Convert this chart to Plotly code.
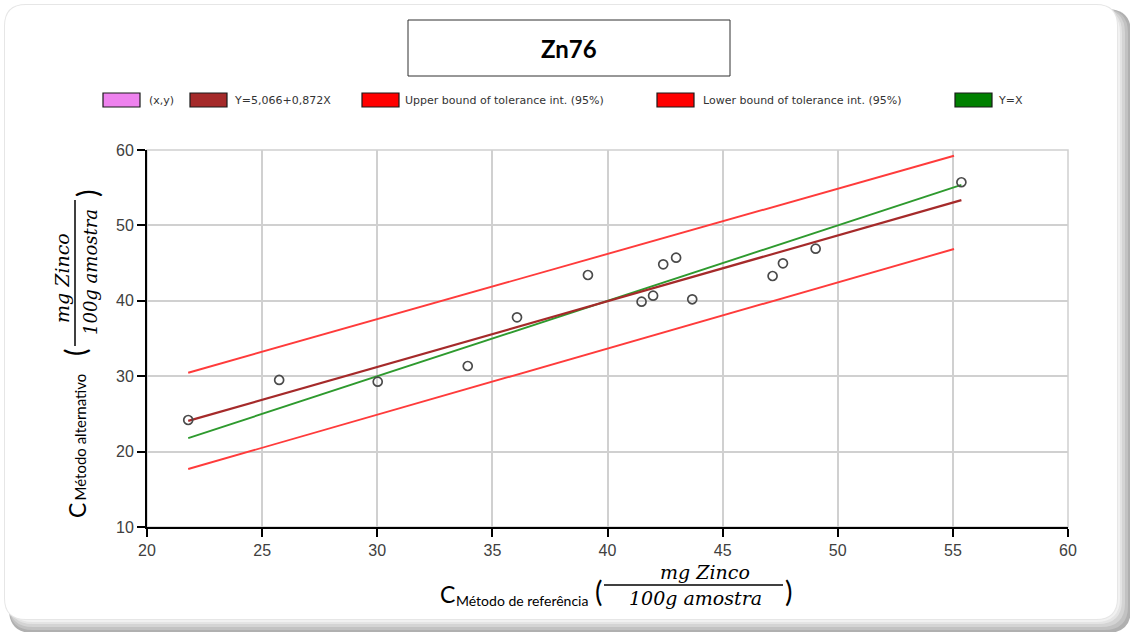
import plotly.graph_objects as go

# ---------------- data ----------------
x_ref = [21.79, 25.74, 30.02, 33.93, 36.07, 39.15, 41.48, 41.98, 42.42, 42.98, 43.68, 47.17, 47.62, 49.04, 55.37]
y_alt = [24.19, 29.50, 29.27, 31.35, 37.81, 43.42, 39.88, 40.68, 44.84, 45.72, 40.20, 43.29, 44.97, 46.91, 55.72]

fit_x = [21.79, 55.37]
fit_y = [24.07, 53.35]
upper_x = [21.79, 55.05]
upper_y = [30.46, 59.24]
lower_x = [21.79, 55.05]
lower_y = [17.69, 46.87]
ident_x = [21.79, 55.37]
ident_y = [21.79, 55.37]

legend_labels = ["(x,y)", "Y=5,066+0,872X", "Upper bound of tolerance int. (95%)",
                 "Lower bound of tolerance int. (95%)", "Y=X"]
legend_colors = ["#EE82EE", "#A52A2A", "#FF0000", "#FF0000", "#008000"]
x_ticks = [20, 25, 30, 35, 40, 45, 50, 55, 60]
y_ticks = [10, 20, 30, 40, 50, 60]
title_text = "Zn76"

# ---------------- layout geometry ----------------
W, H = 1130, 632
L, R, T, B = 147, 1068, 150, 527
PW, PH = R - L, B - T


def X(p):
    return (p - L) / PW


def Y(p):
    return (B - p) / PH


def rrect(x0, y0, x1, y1, r):
    pts = (f"M {X(x0+r)},{Y(y0)} L {X(x1-r)},{Y(y0)} Q {X(x1)},{Y(y0)} {X(x1)},{Y(y0+r)} "
           f"L {X(x1)},{Y(y1-r)} Q {X(x1)},{Y(y1)} {X(x1-r)},{Y(y1)} "
           f"L {X(x0+r)},{Y(y1)} Q {X(x0)},{Y(y1)} {X(x0)},{Y(y1-r)} "
           f"L {X(x0)},{Y(y0+r)} Q {X(x0)},{Y(y0)} {X(x0+r)},{Y(y0)} Z")
    return pts


fig = go.Figure()

fig.add_trace(go.Scatter(x=upper_x, y=upper_y, mode="lines",
                         line=dict(color="#FF3B3B", width=1.9), name=legend_labels[2]))
fig.add_trace(go.Scatter(x=lower_x, y=lower_y, mode="lines",
                         line=dict(color="#FF3B3B", width=1.9), name=legend_labels[3]))
fig.add_trace(go.Scatter(x=ident_x, y=ident_y, mode="lines",
                         line=dict(color="#2E9A2E", width=1.9), name=legend_labels[4]))
fig.add_trace(go.Scatter(x=fit_x, y=fit_y, mode="lines",
                         line=dict(color="#A52A2A", width=2.2), name=legend_labels[1]))
fig.add_trace(go.Scatter(x=x_ref, y=y_alt, mode="markers", name=legend_labels[0],
                         marker=dict(symbol="circle-open", size=9, color="#4a4a4a",
                                     line=dict(width=1.7))))

shapes = []
# card shadow / bevel
shadow = [("#b0b0b0", 1131, 633), ("#c2c2c2", 1128, 630), ("#d4d4d4", 1125, 627),
          ("#e4e4e4", 1122, 624), ("#f1f1f1", 1120, 622)]
for col, x1, y1 in shadow:
    shapes.append(dict(type="path", xref="paper", yref="paper", path=rrect(9, 9, x1, y1, 24),
                       fillcolor=col, line=dict(width=0), layer="below"))
shapes.append(dict(type="path", xref="paper", yref="paper", path=rrect(4, 4, 1118, 620, 22),
                   fillcolor="#e6e6e6", line=dict(width=0), layer="below"))
shapes.append(dict(type="path", xref="paper", yref="paper", path=rrect(5, 5, 1117, 619, 21),
                   fillcolor="#ffffff", line=dict(width=0), layer="below"))

# title box
shapes.append(dict(type="rect", xref="paper", yref="paper", x0=X(408), x1=X(730), y0=Y(20), y1=Y(76),
                   line=dict(color="#303030", width=1), fillcolor="white"))

# legend swatches
sw_x = [103, 190, 362, 657, 955]
tx_x = [147, 232, 403, 701, 996]
annotations = []
for sx, tx, lab, col in zip(sw_x, tx_x, legend_labels, legend_colors):
    shapes.append(dict(type="rect", xref="paper", yref="paper", x0=X(sx), x1=X(sx + 37),
                       y0=Y(93), y1=Y(107), fillcolor=col, line=dict(color="#1a1a1a", width=1.2)))
    annotations.append(dict(x=X(tx), y=Y(100), xref="paper", yref="paper", text=lab,
                            showarrow=False, xanchor="left", yanchor="middle",
                            font=dict(family="DejaVu Sans", size=11, color="#333333")))

# title
annotations.append(dict(x=X(569), y=Y(49), xref="paper", yref="paper", text="<b>" + title_text + "</b>",
                        showarrow=False, xanchor="center", yanchor="middle",
                        font=dict(family="Lato", size=24, color="black")))

serif = "DejaVu Serif"
# x axis title
annotations += [
    dict(x=X(447), y=Y(594), text="C", font=dict(family="Lato", size=23, color="black")),
    dict(x=X(454), y=Y(600), text="Método de referência", xanchor="left",
         font=dict(family="Lato", size=14, color="black")),
    dict(x=X(598), y=Y(591), text="(", font=dict(family="Lato", size=28, color="black")),
    dict(x=X(705), y=Y(572), text="<i>mg Zinco</i>", font=dict(family=serif, size=19, color="black")),
    dict(x=X(695), y=Y(598), text="<i>100g amostra</i>", font=dict(family=serif, size=19, color="black")),
    dict(x=X(788), y=Y(591), text=")", font=dict(family="Lato", size=28, color="black")),
]
shapes.append(dict(type="line", xref="paper", yref="paper", x0=X(604), x1=X(783), y0=Y(585), y1=Y(585),
                   line=dict(color="black", width=1.5)))

# y axis title (rotated)
annotations += [
    dict(x=X(77), y=Y(511), text="C", textangle=-90, font=dict(family="Lato", size=23, color="black")),
    dict(x=X(79), y=Y(503), text="Método alternativo", textangle=-90, yanchor="bottom",
         font=dict(family="Lato", size=15, color="black")),
    dict(x=X(75), y=Y(353), text="(", textangle=-90, font=dict(family="Lato", size=28, color="black")),
    dict(x=X(62), y=Y(278), text="<i>mg Zinco</i>", textangle=-90, font=dict(family=serif, size=19, color="black")),
    dict(x=X(90), y=Y(272), text="<i>100g amostra</i>", textangle=-90, font=dict(family=serif, size=18, color="black")),
    dict(x=X(87), y=Y(194), text=")", textangle=-90, font=dict(family="Lato", size=28, color="black")),
]
shapes.append(dict(type="line", xref="paper", yref="paper", x0=X(75), x1=X(75), y0=Y(200), y1=Y(346),
                   line=dict(color="black", width=1.5)))

for a in annotations:
    a.setdefault("xref", "paper")
    a.setdefault("yref", "paper")
    a.setdefault("showarrow", False)
    a.setdefault("xanchor", "center")
    a.setdefault("yanchor", "middle")

# plot frame (top/right in grid colour)
shapes.append(dict(type="rect", xref="paper", yref="paper", x0=0, x1=1, y0=0, y1=1,
                   line=dict(color="#d0d0d0", width=1.5), layer="below"))

axis_common = dict(showline=True, linecolor="black", linewidth=2, ticks="outside", ticklen=8,
                   tickwidth=1.5, tickcolor="black", showgrid=True, gridcolor="#d0d0d0", gridwidth=1.5,
                   zeroline=False, tickfont=dict(family="Liberation Sans", size=16, color="#404040"),
                   automargin=False, fixedrange=True)

fig.update_layout(
    width=W, height=H, autosize=False,
    margin=dict(l=L, r=W - R, t=T, b=H - B, pad=0),
    paper_bgcolor="white", plot_bgcolor="rgba(0,0,0,0)",
    showlegend=False,
    xaxis=dict(range=[20, 60], tickvals=x_ticks, **axis_common),
    yaxis=dict(range=[10, 60], tickvals=y_ticks, **axis_common),
    shapes=shapes, annotations=annotations,
)

fig.write_html("out.html")
